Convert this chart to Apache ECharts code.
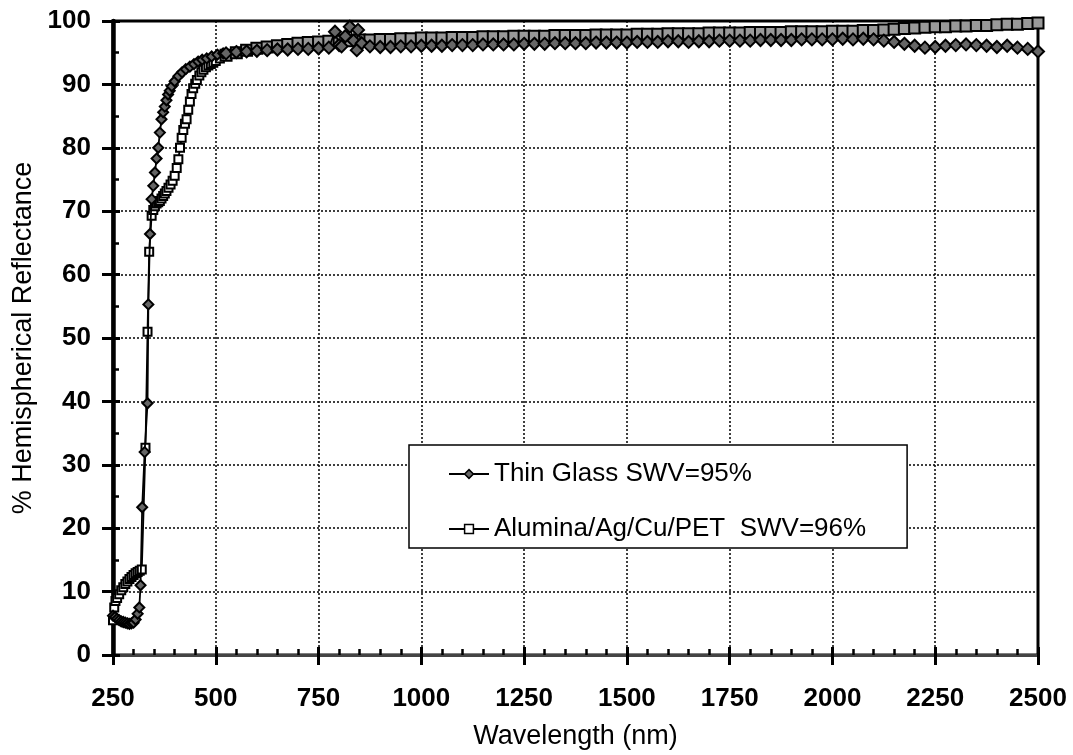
<!DOCTYPE html>
<html lang="en">
<head>
<meta charset="utf-8">
<title>Hemispherical Reflectance</title>
<script src="https://cdn.jsdelivr.net/npm/echarts@6.0.0/dist/echarts.min.js"></script>
<style>
  html, body { margin: 0; padding: 0; background: #fff; }
  #chart { width: 1073px; height: 755px; }
</style>
</head>
<body>
<div id="chart"></div>
<script>
const glassName = "Thin Glass SWV=95%";
const aluName = "Alumina/Ag/Cu/PET  SWV=96%";

const xTicks = [250, 500, 750, 1000, 1250, 1500, 1750, 2000, 2250, 2500];
const yTicks = [0, 10, 20, 30, 40, 50, 60, 70, 80, 90, 100];

// thin glass (diamonds), wavelength in nm
const glassNm = [
  250, 255, 260, 265, 270, 275, 280, 285, 290, 295, 300, 305, 310, 314, 317, 321, 327, 334, 336, 340,
  344, 348, 352, 356, 360, 364, 368, 372, 376, 380, 384, 388, 393, 400, 409, 418, 427, 437, 447, 457,
  467, 478, 490, 504, 518,
  525, 550, 575, 600, 625, 650, 675, 700, 725, 750, 775,
  790, 800, 806, 815, 826, 835, 843, 846, 855, 875,
  900, 925, 950, 975, 1000, 1025, 1050, 1075, 1100, 1125, 1150, 1175, 1200, 1225, 1250, 1275, 1300,
  1325, 1350, 1375, 1400, 1425, 1450, 1475, 1500, 1525, 1550, 1575, 1600, 1625, 1650, 1675, 1700,
  1725, 1750, 1775, 1800, 1825, 1850, 1875, 1900, 1925, 1950, 1975, 2000, 2025, 2050, 2075, 2100,
  2125, 2150, 2175, 2200, 2225, 2250, 2275, 2300, 2325, 2350, 2375, 2400, 2425, 2450, 2475, 2500,
];
const glassR = [
  6.2, 6.0, 5.7, 5.5, 5.3, 5.2, 5.1, 5.0, 4.9, 5.0, 5.1, 5.6, 6.5, 7.5, 11.0, 23.3, 32.0, 39.7, 55.3, 66.4,
  71.9, 74.0, 76.1, 78.3, 80.0, 82.4, 84.5, 85.6, 86.5, 87.5, 88.4, 89.0, 89.7, 90.5, 91.3, 91.9, 92.4, 92.8, 93.2, 93.6,
  93.9, 94.1, 94.4, 94.7, 94.9,
  94.9, 95.1, 95.2, 95.3, 95.4, 95.5, 95.5, 95.6, 95.6, 95.7, 95.8,
  98.3, 96.2, 96.0, 97.6, 99.1, 96.9, 95.4, 98.6, 96.5, 96.0,
  95.9, 95.9, 96.0, 96.0, 96.1, 96.1, 96.1, 96.2, 96.2, 96.2, 96.3, 96.3, 96.3, 96.3, 96.4, 96.4, 96.4,
  96.5, 96.5, 96.5, 96.5, 96.6, 96.6, 96.6, 96.6, 96.7, 96.7, 96.7, 96.8, 96.8, 96.7, 96.8, 96.8,
  96.9, 96.9, 96.9, 96.9, 97.0, 97.0, 97.0, 97.0, 97.1, 97.1, 97.1, 97.1, 97.2, 97.1, 97.2, 97.1,
  96.9, 96.7, 96.4, 96.1, 95.8, 95.9, 96.1, 96.2, 96.3, 96.2, 96.1, 95.9, 96.1, 95.8, 95.6, 95.2,
];

// alumina/Ag/Cu/PET (open squares)
const aluNm = [
  250, 253, 256, 260, 265, 270, 275, 280, 285, 290, 295, 300, 305, 310, 315, 320, 329, 334, 338, 344,
  348, 352, 356, 360, 364, 368, 372, 376, 380, 385, 390, 395, 400, 405, 409, 413, 417, 421, 425, 429,
  433, 437, 441, 445, 450, 454, 460, 465, 470, 476, 482, 488, 494, 500, 510,
  525, 550, 575, 600, 625, 650, 675, 700, 725, 750, 775, 800, 825, 850, 875, 900, 925, 950, 975, 1000,
  1025, 1050, 1075, 1100, 1125, 1150, 1175, 1200, 1225, 1250, 1275, 1300, 1325, 1350, 1375, 1400,
  1425, 1450, 1475, 1500, 1525, 1550, 1575, 1600, 1625, 1650, 1675, 1700, 1725, 1750, 1775, 1800,
  1825, 1850, 1875, 1900, 1925, 1950, 1975, 2000, 2025, 2050, 2075, 2100, 2125, 2150, 2175, 2200,
  2225, 2250, 2275, 2300, 2325, 2350, 2375, 2400, 2425, 2450, 2475, 2500,
];
const aluR = [
  5.5, 7.5, 8.5, 9.0, 9.6, 10.2, 10.7, 11.2, 11.6, 12.0, 12.3, 12.6, 12.9, 13.1, 13.3, 13.5, 32.7, 51.0, 63.6, 69.3,
  70.2, 70.8, 71.2, 71.4, 71.6, 72.0, 72.4, 72.8, 73.2, 73.7, 74.2, 74.8, 75.6, 76.8, 78.2, 80.0, 81.6, 82.8, 83.8, 84.5,
  86.0, 87.3, 88.5, 89.4, 90.1, 90.7, 91.4, 91.9, 92.3, 92.7, 93.0, 93.2, 93.4, 93.7, 94.1,
  94.6, 95.0, 95.4, 95.7, 95.9, 96.1, 96.3, 96.5, 96.6, 96.7, 96.8, 96.9, 96.9, 97.0, 97.0, 97.1, 97.1, 97.2, 97.2, 97.3,
  97.3, 97.3, 97.4, 97.4, 97.4, 97.5, 97.5, 97.5, 97.6, 97.6, 97.6, 97.6, 97.7, 97.7, 97.7, 97.7,
  97.8, 97.8, 97.8, 97.8, 97.9, 97.9, 97.9, 98.0, 98.0, 98.0, 98.0, 98.1, 98.1, 98.1, 98.1, 98.2,
  98.2, 98.2, 98.2, 98.3, 98.3, 98.3, 98.3, 98.4, 98.4, 98.4, 98.5, 98.5, 98.6, 98.7, 98.8, 98.9,
  99.0, 99.1, 99.1, 99.2, 99.2, 99.3, 99.3, 99.4, 99.5, 99.5, 99.6, 99.7,
];

const FONT = "Liberation Sans, Arial, sans-serif";
const BAND_START = 520; // past this the markers merge into one thick band
const gridLine = { show: true, lineStyle: { color: "#000", width: 1.5, type: [2, 2] } };

function pairs(nm, values) {
  return nm.map((w, i) => [w, values[i]]);
}

function markerSize(small, big) {
  return (value) => (value[0] >= BAND_START ? big : small);
}

function buildOption() {
  const xMin = xTicks[0];
  const xMax = xTicks[xTicks.length - 1];
  const xStep = xTicks[1] - xTicks[0];
  const yMin = yTicks[0];
  const yMax = yTicks[yTicks.length - 1];
  const yStep = yTicks[1] - yTicks[0];

  return {
    animation: false,
    backgroundColor: "#fff",
    textStyle: { fontFamily: FONT, color: "#000" },
    grid: {
      left: 113,
      right: 35,
      top: 21,
      bottom: 97,
      show: true,
      backgroundColor: "#fff",
      borderColor: "#000",
      borderWidth: 3,
    },
    legend: {
      left: 409,
      top: 445,
      orient: "vertical",
      backgroundColor: "#fff",
      borderColor: "#000",
      borderWidth: 1.5,
      borderRadius: 0,
      padding: [16, 41, 6, 39],
      itemGap: 29,
      itemWidth: 40,
      itemHeight: 11,
      textStyle: { fontFamily: FONT, fontSize: 26, color: "#000" },
      data: [
        { name: glassName, itemStyle: { color: "#666", borderColor: "#000", borderWidth: 1.5 } },
        { name: aluName, itemStyle: { color: "#fff", borderColor: "#000", borderWidth: 1.5 } },
      ],
    },
    xAxis: [
      {
        type: "value",
        min: xMin,
        max: xMax,
        interval: xStep,
        name: "Wavelength (nm)",
        nameLocation: "middle",
        nameGap: 68,
        nameTextStyle: { fontFamily: FONT, fontSize: 27, color: "#000" },
        axisLine: { show: true, onZero: false, lineStyle: { color: "#444", width: 3 } },
        axisTick: { show: true, inside: true, length: 8, lineStyle: { color: "#000", width: 3 } },
        minorTick: { show: true, splitNumber: 5, length: 6, lineStyle: { color: "#000", width: 2.5 } },
        axisLabel: {
          fontFamily: FONT,
          fontSize: 26,
          fontWeight: "bold",
          color: "#000",
          margin: 31,
          formatter: (value) => String(value),
        },
        splitLine: gridLine,
      },
      {
        type: "value",
        min: xMin,
        max: xMax,
        interval: xStep,
        position: "bottom",
        axisLine: { show: false },
        axisTick: { show: true, inside: false, length: 10, lineStyle: { color: "#000", width: 3 } },
        axisLabel: { show: false },
        splitLine: { show: false },
      },
    ],
    yAxis: [
      {
        type: "value",
        min: yMin,
        max: yMax,
        interval: yStep,
        name: "% Hemispherical Reflectance",
        nameLocation: "middle",
        nameGap: 76,
        nameTextStyle: { fontFamily: FONT, fontSize: 27, color: "#000" },
        axisLine: { show: true, onZero: false, lineStyle: { color: "#000", width: 4.5 } },
        axisTick: { show: true, inside: true, length: 7, lineStyle: { color: "#000", width: 3 } },
        minorTick: { show: true, splitNumber: 2, length: 6, lineStyle: { color: "#000", width: 2.5 } },
        axisLabel: {
          fontFamily: FONT,
          fontSize: 26,
          fontWeight: "bold",
          color: "#000",
          margin: 22,
          formatter: (value) => String(value),
        },
        splitLine: gridLine,
      },
      {
        type: "value",
        min: yMin,
        max: yMax,
        interval: yStep,
        position: "left",
        axisLine: { show: false },
        axisTick: { show: true, inside: false, length: 11, lineStyle: { color: "#000", width: 3 } },
        axisLabel: { show: false },
        splitLine: { show: false },
      },
    ],
    series: [
      {
        name: aluName,
        type: "line",
        xAxisIndex: 0,
        yAxisIndex: 0,
        data: pairs(aluNm, aluR),
        symbol: "rect",
        symbolSize: markerSize(8, 11),
        showAllSymbol: true,
        lineStyle: { color: "#000", width: 1.8 },
        itemStyle: {
          color: (params) => (params.value && params.value[0] >= BAND_START ? "#999" : "#fff"),
          borderColor: "#000",
          borderWidth: 2,
        },
        z: 3,
      },
      {
        name: glassName,
        type: "line",
        xAxisIndex: 0,
        yAxisIndex: 0,
        data: pairs(glassNm, glassR),
        symbol: "diamond",
        symbolSize: markerSize(10, 12),
        showAllSymbol: true,
        lineStyle: { color: "#000", width: 1.8 },
        itemStyle: { color: "#666", borderColor: "#000", borderWidth: 2 },
        z: 4,
      },
    ],
  };
}

function initialize() {
  const chart = echarts.init(document.getElementById("chart"), null, { renderer: "canvas" });
  chart.setOption(buildOption());
}

document.addEventListener("DOMContentLoaded", initialize);
</script>
</body>
</html>
